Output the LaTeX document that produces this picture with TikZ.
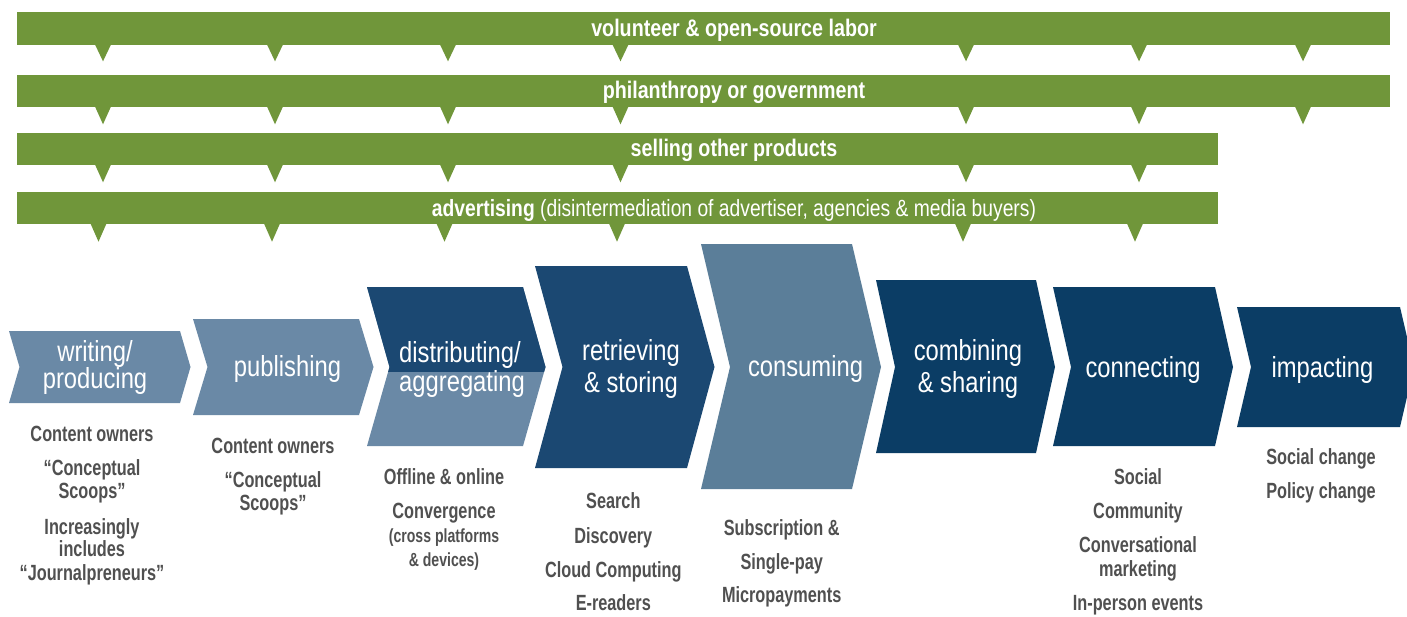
\documentclass[tikz,border=0pt]{standalone}
\usepackage{fontspec}
\setmainfont{Liberation Sans}[FakeStretch=0.82]
\newfontfamily\gfont{Liberation Sans}[FakeStretch=0.74]
\definecolor{barg}{RGB}{112,150,58}
\definecolor{lblue}{RGB}{106,137,166}
\definecolor{cblue}{RGB}{91,126,153}
\definecolor{mblue}{RGB}{27,72,114}
\definecolor{dblue}{RGB}{11,61,101}
\definecolor{gtext}{RGB}{80,80,80}
\tikzset{
  bartext/.style={text=white, font=\fontsize{24}{28}\selectfont\bfseries, anchor=base, inner sep=0pt},
  chevtext/.style={text=white, font=\fontsize{29}{32}\selectfont, anchor=base, inner sep=0pt},
  subtext/.style={text=gtext, font=\gfont\fontsize{22}{24}\selectfont\bfseries, anchor=base, inner sep=0pt},
  smalltext/.style={text=gtext, font=\gfont\fontsize{19}{21}\selectfont\bfseries, anchor=base, inner sep=0pt},
}
\newcommand\chevron[6]{\fill[#6] (#1,#2) -- (#3,#2) -- ({#3+#5},367) -- (#3,#4) -- (#1,#4) -- ({#1+#5},367) -- cycle;}
\newcommand\greenbar[4]{% left, top, right, bottom
  \fill[barg] (#1,#2) rectangle (#3,#4);}
\newcommand\tri[3]{\fill[barg] ({#1-8},#2) -- ({#1+8},#2) -- (#1,#3) -- cycle;}
\begin{document}
\begin{tikzpicture}[x=1pt,y=-1pt]
\useasboundingbox (0,0) rectangle (1407,616);
\clip (0,0) rectangle (1407,616);
\fill[white] (0,0) rectangle (1407,616);

% green bars
\greenbar{17}{12}{1390}{45}
\foreach \xx in {103,275,448,620.5,966,1139,1303} {\tri{\xx}{44.5}{61.3}}
\greenbar{17}{75}{1390}{107}
\foreach \xx in {103,275,448,620.5,966,1139,1303} {\tri{\xx}{106.5}{124.3}}
\greenbar{17}{133}{1218}{165}
\foreach \xx in {103,275,448,620.5,966,1139} {\tri{\xx}{164.5}{182.3}}
\greenbar{17}{192}{1218}{224}
\foreach \xx in {98.5,272,444.5,617,963,1135} {\tri{\xx}{223.5}{241.7}}

\node[bartext] (t1) at (734,36) {volunteer \& open-source labor};
\node[bartext] (t2) at (734,98.5) {philanthropy or government};
\node[bartext] (t3) at (734,156) {selling other products};
\node[bartext, font=\fontsize{23.5}{28}\selectfont] (t4) at (734,216.5) {\textbf{advertising} (disintermediation of advertiser, agencies \& media buyers)};

% chevrons
\chevron{9}{331}{180}{403}{10.5}{lblue}
\chevron{193}{319}{359}{415}{14.5}{lblue}
\chevron{367}{287}{523}{446}{22.5}{lblue}
\begin{scope}
  \clip (300,200) rectangle (600,371);
  \chevron{367}{287}{523}{446}{22.5}{mblue}
\end{scope}
\chevron{535}{266}{687}{468}{27.5}{mblue}
\chevron{701}{244}{852}{489}{29}{cblue}
\chevron{876}{280}{1036}{453}{19}{dblue}
\chevron{1053}{287}{1215}{446}{18}{dblue}
\chevron{1237}{307}{1400}{427}{14}{dblue}

% chevron labels
\node[chevtext] (c1a) at (95,361) {writing/};
\node[chevtext] (c1b) at (95,388) {producing};
\node[chevtext] (c2) at (287.5,376) {publishing};
\node[chevtext] (c3a) at (460,362) {distributing/};
\node[chevtext] (c3b) at (462,391) {aggregating};
\node[chevtext] (c4a) at (631,360) {retrieving};
\node[chevtext] (c4b) at (631,392) {\& storing};
\node[chevtext] (c5) at (805.5,376) {consuming};
\node[chevtext] (c6a) at (968,360) {combining};
\node[chevtext] (c6b) at (968,392) {\& sharing};
\node[chevtext] (c7) at (1143,377) {connecting};
\node[chevtext] (c8) at (1322.5,377) {impacting};

% descriptions
\foreach \yy/\txt [count=\i] in {441/Content owners, 475/“Conceptual, 498.3/Scoops”, 534/Increasingly, 556.7/includes, 580.7/“Journalpreneurs”}
  \node[subtext] (w\i) at (92,\yy) {\txt};
\foreach \yy/\txt [count=\i] in {453.3/Content owners, 487/“Conceptual, 510/Scoops”}
  \node[subtext] (p\i) at (273,\yy) {\txt};
\node[subtext] (d1) at (444,484.3) {Offline \& online};
\node[subtext] (d2) at (444,518.3) {Convergence};
\node[smalltext] (d3) at (444,542.7) {(cross platforms};
\node[smalltext] (d4) at (444,566) {\& devices)};
\foreach \yy/\txt [count=\i] in {508.3/Search, 543.3/Discovery, 577.3/Cloud Computing, 610.7/E-readers}
  \node[subtext] (r\i) at (613.3,\yy) {\txt};
\node[subtext] (s1) at (781.7,535) {Subscription \&};
\node[subtext] (s2) at (781.7,569.3) {Single-pay};
\node[subtext] (s3) at (781.7,602.7) {Micropayments};
\foreach \yy/\txt [count=\i] in {484/Social, 518.3/Community, 552.7/Conversational, 576.7/marketing, 610.7/In-person events}
  \node[subtext] (k\i) at (1138,\yy) {\txt};
\node[subtext] (i1) at (1321,464) {Social change};
\node[subtext] (i2) at (1321,498.3) {Policy change};
\end{tikzpicture}
\end{document}
